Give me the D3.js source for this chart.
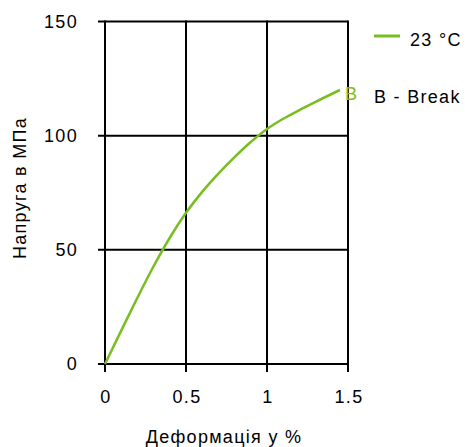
<!DOCTYPE html>
<html>
<head>
  <meta charset="utf-8">
  <title>Напруга / Деформація</title>
  <script src="https://d3js.org/d3.v7.min.js"></script>
  <style>
    body { margin: 0; background: #fff; }
    text { font-family: "Liberation Sans", Arial, sans-serif; font-size: 18px; letter-spacing: 1.3px; fill: #000; }
  </style>
</head>
<body>
  <div id="chart"></div>
  <script>
    // curve data
    const strain = [0, 0.1, 0.2, 0.3, 0.4, 0.5, 0.6, 0.7, 0.8, 0.9, 1.0, 1.1, 1.2, 1.3, 1.45];
    const stress = [0, 14.6, 29, 42.8, 55.3, 66.2, 75.4, 83.4, 90.6, 97.2, 102.9, 107.4, 111.2, 114.8, 120];
    const xTicks = [0, 0.5, 1, 1.5];
    const yTicks = [0, 50, 100, 150];
    const seriesName = "23 °C";
    const breakLabel = "B";
    const breakNote = "B - Break";

    const green = "#78be20";
    const width = 465, height = 447;

    const svg = d3.select("#chart")
      .append("svg")
      .attr("width", width)
      .attr("height", height);

    // scales
    const x = d3.scaleLinear().domain([0, 1.5]).range([105, 348]);
    const y = d3.scaleLinear().domain([0, 150]).range([364, 21.5]);

    // grid lines (also act as ticks)
    svg.append("g")
      .selectAll("line")
      .data(yTicks)
      .enter()
      .append("line")
      .attr("x1", x(0) - 7)
      .attr("x2", x(1.5))
      .attr("y1", d => y(d))
      .attr("y2", d => y(d))
      .attr("stroke", "#000")
      .attr("stroke-width", 2);

    svg.append("g")
      .selectAll("line")
      .data(xTicks)
      .enter()
      .append("line")
      .attr("x1", d => x(d))
      .attr("x2", d => x(d))
      .attr("y1", y(150) - 1)
      .attr("y2", y(0) + 8)
      .attr("stroke", "#000")
      .attr("stroke-width", 2);

    // tick labels
    svg.append("g")
      .selectAll("text")
      .data(yTicks)
      .enter()
      .append("text")
      .attr("x", x(0) - 27)
      .attr("y", d => y(d))
      .attr("dy", "0.35em")
      .attr("text-anchor", "end")
      .text(d => d);

    svg.append("g")
      .selectAll("text")
      .data(xTicks)
      .enter()
      .append("text")
      .attr("x", d => x(d) + 1)
      .attr("y", 403)
      .attr("text-anchor", "middle")
      .text(d => d);

    // axis titles
    svg.append("text")
      .attr("x", 224)
      .attr("y", 443)
      .attr("text-anchor", "middle")
      .text("Деформація у %");

    svg.append("text")
      .attr("transform", "translate(26,188) rotate(-90)")
      .attr("text-anchor", "middle")
      .text("Напруга в МПа");

    // curve
    const pts = strain.map((s, i) => [s, stress[i]]);
    const line = d3.line()
      .x(d => x(d[0]))
      .y(d => y(d[1]))
      .curve(d3.curveMonotoneX);

    svg.append("path")
      .datum(pts)
      .attr("d", line)
      .attr("fill", "none")
      .attr("stroke", green)
      .attr("stroke-width", 2.5);

    // break marker
    const last = pts[pts.length - 1];
    svg.append("text")
      .attr("x", x(last[0]) + 5)
      .attr("y", y(last[1]) + 10)
      .style("fill", green)
      .text(breakLabel);

    // legend
    svg.append("line")
      .attr("x1", 374).attr("x2", 400)
      .attr("y1", 36).attr("y2", 36)
      .attr("stroke", green)
      .attr("stroke-width", 3);

    svg.append("text")
      .attr("x", 410)
      .attr("y", 46)
      .text(seriesName);

    svg.append("text")
      .attr("x", 374)
      .attr("y", 103)
      .text(breakNote);
  </script>
</body>
</html>
